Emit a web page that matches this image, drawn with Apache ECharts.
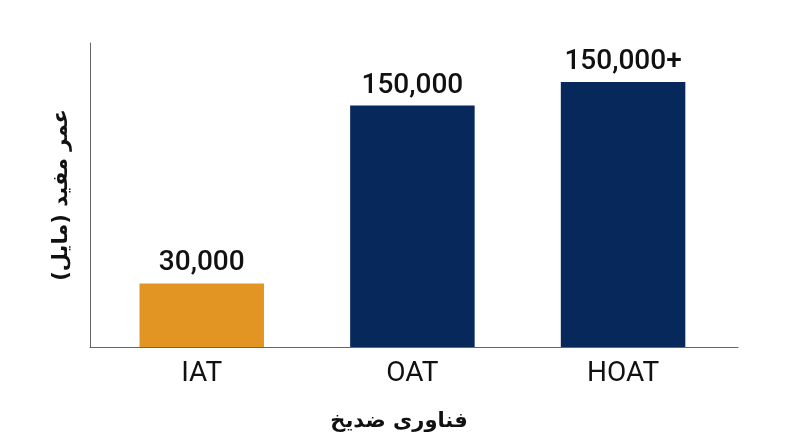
<!DOCTYPE html>
<html>
<head>
<meta charset="utf-8">
<script src="https://cdn.jsdelivr.net/npm/echarts@6/dist/echarts.min.js"></script>
<style>
html,body{margin:0;padding:0;background:#fff;}
#chart{width:800px;height:447px;}
</style>
</head>
<body>
<div id="chart"></div>
<script>
// categories and what the picture shows
var categories = ['IAT', 'OAT', 'HOAT'];
// drawn bar lengths (axis top = 100)
var barLengths = [20.9, 79.4, 87.2];
var valueLabels = ['30,000', '150,000', '150,000+'];
var barColors = ['#E29522', '#06285A', '#06285A'];

var xTitle = 'فناوری ضدیخ';
var yTitle = 'عمر مفید (مایل)';

var myChart = echarts.init(document.getElementById('chart'));

var D = [];
for (var i = 0; i < categories.length; i++) {
	D[i] = {
		value: barLengths[i],
		itemStyle: {color: barColors[i]},
		label: {formatter: valueLabels[i]}
	};
}

var titleStyle = {
	fontFamily: 'DejaVu Sans',
	fontWeight: 'bold',
	fontSize: 21,
	color: '#111'
};

option = {
	backgroundColor: '#fff',
	animation: false,
	// grid 0: the frame (axis lines + titles), grid 1: the bars
	grid: [
		{left: 90, right: 62, top: 43, bottom: 100},
		{left: 96.4, right: 71.6, top: 43, bottom: 100}
	],
	xAxis: [{
		gridIndex: 0,
		type: 'value',
		min: 0,
		max: 1,
		name: xTitle,
		nameLocation: 'middle',
		nameGap: 64,
		nameTextStyle: Object.assign({padding: [0, 30, 0, 0]}, titleStyle),
		axisLine: {show: true, onZero: false, lineStyle: {color: '#666', width: 1}},
		axisTick: {show: false},
		axisLabel: {show: false},
		splitLine: {show: false}
	}, {
		gridIndex: 1,
		type: 'category',
		data: categories,
		axisLine: {show: false},
		axisTick: {show: false},
		axisLabel: {
			fontFamily: 'Roboto',
			fontSize: 28,
			color: '#111',
			margin: 13
		}
	}],
	yAxis: [{
		gridIndex: 0,
		type: 'value',
		min: 0,
		max: 100,
		name: yTitle,
		nameLocation: 'middle',
		nameRotate: 90,
		nameGap: 18,
		nameTextStyle: titleStyle,
		axisLine: {show: true, onZero: false, lineStyle: {color: '#666', width: 1}},
		axisTick: {show: false},
		axisLabel: {show: false},
		splitLine: {show: false}
	}, {
		gridIndex: 1,
		type: 'value',
		min: 0,
		max: 100,
		show: false
	}],
	series: [{
		type: 'bar',
		xAxisIndex: 1,
		yAxisIndex: 1,
		data: D,
		barWidth: 124.5,
		label: {
			show: true,
			position: 'top',
			distance: 6,
			fontFamily: 'Roboto',
			fontWeight: 500,
			fontSize: 28,
			color: '#111'
		}
	}]
};

myChart.setOption(option);
</script>
</body>
</html>
